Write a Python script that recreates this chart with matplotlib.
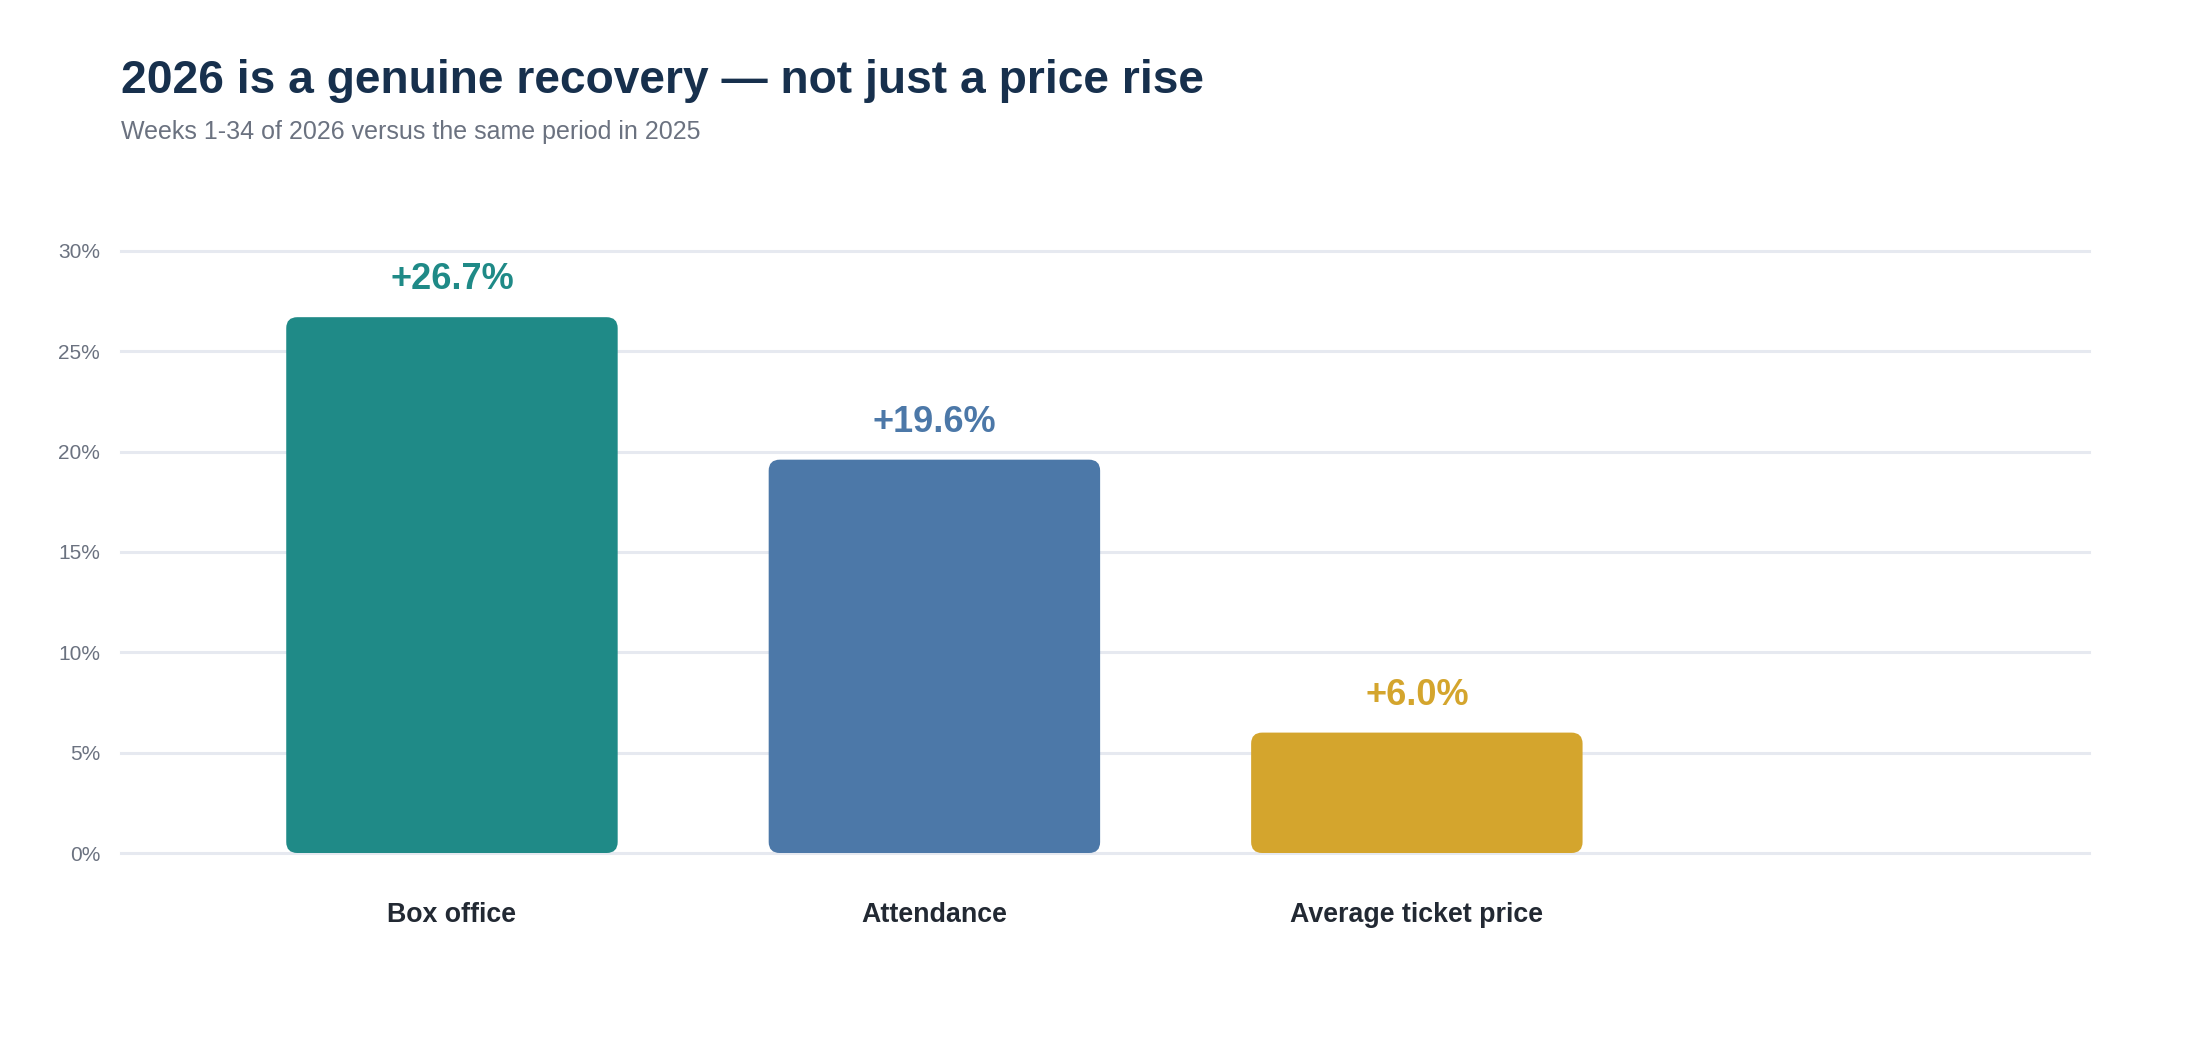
import matplotlib.pyplot as plt
from matplotlib.patches import FancyBboxPatch

# Daten
categories = ['Box office', 'Attendance', 'Average ticket price']
changes = [26.7, 19.6, 6.0]
colors = ['#1F8A87', '#4C78A8', '#D4A52D']
y_ticks = [0, 5, 10, 15, 20, 25, 30]

plt.rcParams['font.family'] = ['Liberation Sans', 'DejaVu Sans']

fig = plt.figure(figsize=(22, 10.4), dpi=100)
ax = fig.add_axes([0.055, 0.1798, 0.8945, 0.5789])

x = list(range(len(categories)))
bars = ax.bar(x, changes, width=0.687, color=colors)

# Balken durch abgerundete Rechtecke ersetzen
for b, c in zip(bars, colors):
    b.set_visible(False)
    bx, by = b.get_x(), b.get_y()
    bw, bh = b.get_width(), b.get_height()
    r = 0.023
    p = FancyBboxPatch((bx, by), bw, bh,
                       boxstyle='round,pad=0,rounding_size=%f' % r,
                       mutation_aspect=23.8, facecolor=c, edgecolor='none',
                       zorder=3)
    ax.add_patch(p)

for xi, v, c in zip(x, changes, colors):
    ax.annotate('+%.1f%%' % v, (xi, v), xytext=(0, 27), textcoords='offset points',
                ha='center', va='center', fontsize=26, fontweight='bold', color=c)

ax.set_xlim(-0.686, 3.393)
ax.set_ylim(0, 30)
ax.set_yticks(y_ticks)
ax.set_yticklabels(['%d%%' % t for t in y_ticks])
ax.set_xticks(x)
ax.set_xticklabels(categories, fontsize=19.3, fontweight='bold', color='#222933')
ax.tick_params(axis='x', length=0, pad=35)
ax.tick_params(axis='y', length=0, pad=15, labelsize=15, labelcolor='#6B7280')
for t in y_ticks:
    ax.axhline(t, color='#E6E9F0', lw=2.2, zorder=1, clip_on=False)
for s in ax.spines.values():
    s.set_visible(False)

fig.text(0.055, 0.922, '2026 is a genuine recovery \u2014 not just a price rise',
         fontsize=33.2, fontweight='bold', color='#17304D', va='center', ha='left')
fig.text(0.055, 0.873, 'Weeks 1-34 of 2026 versus the same period in 2025',
         fontsize=18, color='#6B7280', va='center', ha='left')

fig.savefig('out.png', dpi=100, facecolor='white')
